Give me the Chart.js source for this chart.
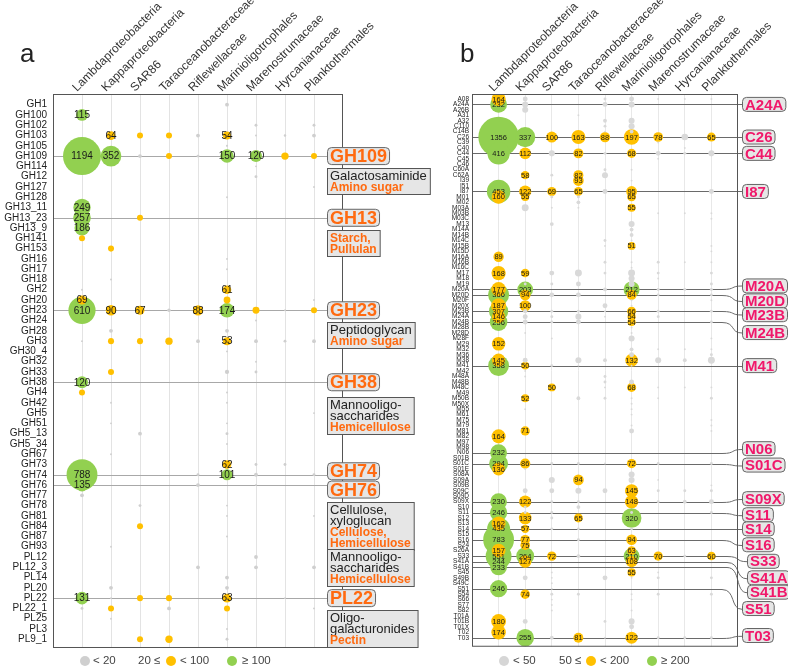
<!DOCTYPE html>
<html>
<head>
<meta charset="utf-8">
<script src="https://cdn.jsdelivr.net/npm/chart.js@4.4.1/dist/chart.umd.min.js"></script>
<style>
html, body { margin: 0; padding: 0; background: #fff; }
#wrap { position: relative; width: 788px; height: 667px; overflow: hidden; }
canvas { position: absolute; top: 0; }
#ca { left: 0; }
#cb { left: 400px; }
</style>
</head>
<body>
<div id="wrap">
    <canvas id="ca" width="440" height="667"></canvas>
    <canvas id="cb" width="388" height="667"></canvas>
</div>
<script>
const FONT = "'Liberation Sans', Arial, sans-serif";
const GREEN = '#92d050';
const ORANGE = '#ffc000';
const TAGORANGE = '#ff6a10';
const PINK = '#f0186a';

const taxa = ['Lambdaproteobacteria', 'Kappaproteobacteria', 'SAR86', 'Taraoceanobacteraceae', 'Riflewellaceae',
    'Marinioligotrophales', 'Marenostrumaceae', 'Hyrcanianaceae', 'Planktothermales'];

// ---- panel a : GH / PL families ----
const rowsA = ['GH1', 'GH100', 'GH102', 'GH103', 'GH105', 'GH109', 'GH114', 'GH12', 'GH127', 'GH128', 'GH13_11',
    'GH13_23', 'GH13_9', 'GH141', 'GH153', 'GH16', 'GH17', 'GH18', 'GH2', 'GH20', 'GH23', 'GH24', 'GH28', 'GH3',
    'GH30_4', 'GH32', 'GH33', 'GH38', 'GH4', 'GH42', 'GH5', 'GH51', 'GH5_13', 'GH5_34', 'GH67', 'GH73', 'GH74',
    'GH76', 'GH77', 'GH78', 'GH81', 'GH84', 'GH87', 'GH93', 'PL12', 'PL12_3', 'PL14', 'PL20', 'PL22', 'PL22_1',
    'PL25', 'PL3', 'PL9_1'];

const aLam = [['GH100', 115], ['GH109', 1194], ['GH13_11', 249], ['GH13_23', 257], ['GH13_9', 186], ['GH141', 30],
    ['GH2', 3], ['GH20', 69], ['GH23', 610], ['GH3', 3], ['GH38', 120], ['GH4', 30], ['GH74', 788], ['GH76', 135],
    ['GH77', 12], ['PL22', 131], ['PL22_1', 7]];
const aKap = [['GH103', 64], ['GH109', 352], ['GH153', 30], ['GH18', 3], ['GH23', 90], ['GH28', 12], ['GH3', 30],
    ['GH33', 30], ['GH42', 3], ['GH51', 3], ['GH67', 3], ['GH93', 3], ['PL20', 12], ['PL22', 3], ['PL22_1', 30],
    ['PL25', 3]];
const aSar = [['GH103', 30], ['GH109', 12], ['GH13_23', 30], ['GH23', 67], ['GH3', 30], ['GH5_13', 12], ['GH78', 7],
    ['GH84', 30], ['PL22', 30], ['PL9_1', 30]];
const aTar = [['GH103', 30], ['GH109', 30], ['GH23', 10], ['GH3', 45], ['PL22', 30], ['PL22_1', 12], ['PL9_1', 45]];
const aRif = [['GH103', 12], ['GH109', 7], ['GH23', 88], ['GH3', 12], ['GH74', 7], ['GH76', 12], ['PL12_3', 12]];
const aMio = [['GH1', 12], ['GH103', 54], ['GH105', 4], ['GH109', 150], ['GH128', 3], ['GH16', 3], ['GH17', 3],
    ['GH2', 61], ['GH20', 38], ['GH23', 174], ['GH28', 12], ['GH3', 53], ['GH30_4', 3], ['GH33', 15], ['GH4', 3],
    ['GH42', 3], ['GH51', 3], ['GH5_13', 7], ['GH5_34', 3], ['GH73', 62], ['GH74', 101], ['GH78', 3], ['GH81', 3],
    ['GH87', 3], ['PL14', 12], ['PL20', 12], ['PL22', 63], ['PL22_1', 30], ['PL3', 3], ['PL9_1', 7]];
const aMar = [['GH102', 7], ['GH103', 3], ['GH109', 120], ['GH114', 3], ['GH12', 7], ['GH23', 40], ['GH24', 3],
    ['GH3', 12], ['GH32', 3], ['GH33', 7], ['GH73', 7], ['GH74', 12], ['GH76', 3], ['PL12', 12], ['PL12_3', 12]];
const aHyr = [['GH103', 5], ['GH109', 45], ['GH23', 3], ['GH3', 7], ['GH73', 7], ['PL22', 3]];
const aPla = [['GH102', 7], ['GH103', 12], ['GH109', 30], ['GH127', 3], ['GH20', 3], ['GH23', 30], ['GH3', 12],
    ['GH5', 3], ['GH74', 7], ['GH81', 3], ['PL12_3', 12], ['PL22_1', 3]];

const markA = ['GH109', 'GH13_23', 'GH23', 'GH38', 'GH74', 'GH76', 'PL22'];
const tagA = ['GH109', 'GH13', 'GH23', 'GH38', 'GH74', 'GH76', 'PL22'];
const notesA = [
    [['Galactosaminide'], ['Amino sugar']],
    [[], ['Starch,', 'Pullulan']],
    [['Peptidoglycan'], ['Amino sugar']],
    [['Mannooligo-', 'saccharides'], ['Hemicellulose']],
    [['Cellulose,', 'xyloglucan'], ['Cellulose,', 'Hemicellulose']],
    [['Mannooligo-', 'saccharides'], ['Hemicellulose']],
    [['Oligo-', 'galacturonides'], ['Pectin']],
];

// ---- panel b : peptidase families ----
const rowsB = ['A08', 'A24A', 'A26B', 'A31', 'A32', 'C110', 'C14B', 'C26', 'C39', 'C40', 'C44', 'C45', 'C46', 'C60A',
    'C62A', 'I39', 'I51', 'I87', 'M01', 'M02', 'M03A', 'M03B', 'M03C', 'M13', 'M14A', 'M14B', 'M14C', 'M15B', 'M15D',
    'M16A', 'M16B', 'M16C', 'M17', 'M18', 'M19', 'M20A', 'M20D', 'M20F', 'M20X', 'M23B', 'M24A', 'M24B', 'M28B',
    'M28D', 'M28F', 'M29', 'M32', 'M36', 'M38', 'M41', 'M42', 'M48A', 'M48B', 'M48C', 'M49', 'M50B', 'M50X', 'M55',
    'M61', 'M75', 'M79', 'M81', 'M82', 'M97', 'M98', 'N06', 'S01B', 'S01C', 'S01E', 'S08A', 'S09A', 'S09B', 'S09C',
    'S09D', 'S09X', 'S10', 'S11', 'S12', 'S13', 'S14', 'S15', 'S16', 'S24', 'S26A', 'S33', 'S41A', 'S41B', 'S45',
    'S49B', 'S49C', 'S51', 'S54', 'S66', 'S77', 'S82', 'T01A', 'T01B', 'T01X', 'T02', 'T03'];

const bLam = [['A08', 164], ['A24A', 232], ['C26', 1356], ['C44', 416], ['I87', 453], ['M01', 160], ['M16A', 89],
    ['M17', 168], ['M20A', 177], ['M20D', 366], ['M20X', 187], ['M23B', 307], ['M24A', 146], ['M24B', 256],
    ['M29', 152], ['M38', 145], ['M41', 358], ['M82', 164], ['N06', 232], ['S01C', 294], ['S01E', 136], ['S09X', 230],
    ['S11', 246], ['S13', 162], ['S14', 435], ['S16', 783], ['S26A', 157], ['S33', 551], ['S41A', 244], ['S41B', 233],
    ['S51', 246], ['T01B', 180], ['T02', 174]];
const bKap = [['A08', 20], ['A24A', 30], ['A26B', 30], ['C26', 337], ['C44', 112], ['C62A', 58], ['I87', 122],
    ['M01', 55], ['M03A', 40], ['M17', 59], ['M19', 7], ['M20A', 203], ['M20D', 94], ['M20X', 100], ['M23B', 15],
    ['M24A', 20], ['M24B', 20], ['M28D', 3], ['M38', 20], ['M41', 50], ['M42', 3], ['M48A', 3], ['M50B', 52],
    ['M55', 3], ['M81', 71], ['S01C', 86], ['S01E', 3], ['S09C', 20], ['S09X', 122], ['S10', 7], ['S11', 7],
    ['S12', 133], ['S14', 57], ['S16', 77], ['S24', 75], ['S33', 264], ['S41A', 127], ['S49B', 20], ['S54', 74],
    ['T01B', 20], ['T03', 255]];
const bSar = [['C26', 100], ['C44', 30], ['C62A', 7], ['I87', 69], ['M01', 7], ['M03A', 3], ['M13', 12], ['M17', 20],
    ['M19', 7], ['M20D', 20], ['M23B', 7], ['M24A', 7], ['M24B', 7], ['M28F', 3], ['M41', 7], ['M48C', 50],
    ['S01C', 7], ['S09A', 30], ['S09C', 20], ['S09X', 7], ['S11', 7], ['S12', 7], ['S14', 7], ['S33', 72], ['S45', 3],
    ['S49B', 3], ['S49C', 3], ['S51', 3], ['S54', 7], ['S66', 3], ['S77', 3], ['S82', 3], ['T03', 12]];
const bTar = [['A31', 3], ['C26', 163], ['C44', 82], ['C62A', 82], ['I39', 93], ['I87', 65], ['M01', 7], ['M02', 12],
    ['M03A', 3], ['M17', 40], ['M19', 20], ['M20D', 20], ['M23B', 7], ['M24A', 30], ['M24B', 20], ['M38', 30],
    ['M41', 3], ['M50B', 12], ['S01C', 7], ['S09A', 94], ['S09C', 30], ['S09X', 7], ['S10', 12], ['S12', 65],
    ['S14', 7], ['S16', 7], ['S33', 12], ['S54', 7], ['T03', 81]];
const bRif = [['A08', 7], ['A24A', 20], ['A32', 12], ['C110', 7], ['C14B', 3], ['C26', 88], ['C44', 7], ['C60A', 7],
    ['C62A', 30], ['I87', 20], ['M14C', 7], ['M15B', 3], ['M16B', 7], ['M17', 7], ['M20A', 12], ['M20X', 20],
    ['M23B', 3], ['M24A', 3], ['M38', 12], ['M48A', 7], ['M48B', 7], ['M48C', 3], ['M50B', 7], ['S01C', 3],
    ['S09C', 20], ['S49B', 20], ['T01B', 7], ['T03', 3]];
const bMio = [['A08', 20], ['A24A', 30], ['A32', 30], ['C110', 30], ['C14B', 12], ['C26', 197], ['C44', 68],
    ['C60A', 3], ['I39', 3], ['I87', 95], ['M01', 65], ['M03A', 55], ['M13', 30], ['M14A', 12], ['M14B', 12],
    ['M14C', 3], ['M15B', 51], ['M16B', 3], ['M16C', 3], ['M17', 40], ['M18', 30], ['M19', 30], ['M20A', 212],
    ['M20D', 84], ['M20F', 3], ['M20X', 3], ['M23B', 66], ['M24A', 54], ['M24B', 54], ['M28B', 3], ['M28D', 3],
    ['M28F', 30], ['M32', 12], ['M36', 20], ['M38', 132], ['M41', 3], ['M48B', 20], ['M48C', 68], ['M50B', 3],
    ['M50X', 3], ['M55', 3], ['M61', 3], ['M79', 3], ['M81', 20], ['S01C', 72], ['S08A', 30], ['S09A', 30],
    ['S09C', 145], ['S09X', 148], ['S11', 7], ['S12', 320], ['S14', 7], ['S16', 94], ['S26A', 63], ['S33', 210],
    ['S41A', 108], ['S45', 55], ['S49B', 3], ['S54', 3], ['S66', 3], ['S82', 3], ['T01B', 30], ['T01X', 20],
    ['T03', 122]];
const bMar = [['A08', 3], ['C26', 78], ['C39', 3], ['C44', 20], ['C45', 3], ['M03B', 3], ['M16B', 7], ['M17', 7],
    ['M18', 3], ['M20A', 7], ['M20D', 7], ['M23B', 7], ['M24A', 7], ['M32', 3], ['M38', 30], ['M48C', 3], ['M50B', 3],
    ['S01C', 7], ['S09A', 3], ['S09C', 7], ['S09X', 7], ['S33', 70], ['S45', 3], ['S49B', 7], ['S54', 7], ['T03', 7]];
const bHyr = [['A08', 3], ['C26', 36], ['C40', 3], ['C44', 7], ['M03B', 3], ['M16B', 3], ['M20A', 7], ['M32', 3],
    ['M38', 12], ['M48C', 3], ['S09C', 7], ['S09X', 12], ['S33', 7], ['T03', 7]];
const bPla = [['A08', 3], ['C26', 65], ['C44', 30], ['I87', 20], ['M03B', 3], ['M03C', 3], ['M15B', 3], ['M15D', 3],
    ['M16B', 3], ['M17', 7], ['M19', 7], ['M20A', 7], ['M20D', 7], ['M20F', 3], ['M23B', 7], ['M24B', 7],
    ['M28F', 3], ['M32', 3], ['M36', 7], ['M38', 40], ['M48C', 3], ['M50B', 7], ['M75', 3], ['M79', 3], ['M81', 3],
    ['S01C', 7], ['S09B', 3], ['S09C', 7], ['S09X', 20], ['S11', 7], ['S33', 60], ['S49B', 7], ['S54', 7],
    ['T03', 7]];

const markB = ['A24A', 'C26', 'C44', 'I87', 'M20A', 'M20D', 'M23B', 'M24B', 'M41', 'N06', 'S01C', 'S09X', 'S11',
    'S14', 'S16', 'S33', 'S41A', 'S41B', 'S51', 'T03'];

// tag box offsets from the row they point at (px)
const tagShiftA = { GH74: -3.5, GH76: 4.5 };
const noteTopA = [168, 230, 322, 397, 502, 549, 610];
const tagShiftB = { M20A: -3.5, M20D: 6, M23B: 3.5, M24B: 10.5, N06: -4, S01C: 1.5, S09X: -3, S11: 2.2, S16: 5,
    S33: 5.2, S41A: 16.3, S41B: 25.2, S51: 19.8, T03: -2.2 };
const tagIndentB = { S33: 5, S41A: 5, S41B: 5 };

const rad = v => Math.max(0.8, 0.55 * Math.sqrt(v));

function buildSets(rows, cols, lo, hi, grey) {
    const sets = [[], [], []];
    cols.forEach((col, ci) => col.forEach(([name, v]) => {
        const y = rows.indexOf(name);
        if (y < 0) console.warn('missing row', name);
        const k = v < lo ? 0 : v < hi ? 1 : 2;
        sets[k].push({ x: ci + 1, y, r: rad(v), v });
    }));
    const colors = [grey, ORANGE, GREEN];
    return sets.map((data, i) => ({ data, backgroundColor: colors[i], borderWidth: 0, hoverRadius: 0 }));
}

const valueLabels = {
    id: 'valueLabels',
    afterDatasetsDraw(chart, args, opts) {
        const { ctx } = chart;
        ctx.save();
        ctx.font = opts.font;
        ctx.fillStyle = '#1a1a1a';
        ctx.textAlign = 'center';
        ctx.textBaseline = 'middle';
        chart.data.datasets.forEach((ds, i) => {
            chart.getDatasetMeta(i).data.forEach((el, j) => {
                const v = ds.data[j].v;
                if (v >= opts.min) ctx.fillText(v, el.x, el.y + 0.5);
            });
        });
        ctx.restore();
    }
};

function drawHeader(chart, letter, letterX, dx, dy) {
    const { ctx, chartArea } = chart;
    const xs = chart.scales.x;
    ctx.save();
    ctx.strokeStyle = '#555';
    ctx.lineWidth = 1;
    ctx.strokeRect(chartArea.left + 0.5, chartArea.top + 0.5, chartArea.width - 1, chartArea.height - 1);
    ctx.fillStyle = '#333';
    ctx.font = '12px ' + FONT;
    ctx.textAlign = 'left';
    ctx.textBaseline = 'alphabetic';
    taxa.forEach((t, i) => {
        ctx.save();
        ctx.translate(xs.getPixelForValue(i + 1) + dx, chartArea.top + dy);
        ctx.rotate(-Math.PI / 4);
        ctx.fillText(t, 0, 0);
        ctx.restore();
    });
    ctx.fillStyle = '#222';
    ctx.font = '26px ' + FONT;
    ctx.fillText(letter, letterX, 62);
    ctx.restore();
}

function drawLegend(ctx, y, grey, items) {
    ctx.save();
    ctx.font = '11.5px ' + FONT;
    ctx.textBaseline = 'middle';
    items.forEach(([kind, x, txt]) => {
        if (kind === 't') {
            ctx.fillStyle = '#444';
            ctx.fillText(txt, x, y);
        } else {
            ctx.fillStyle = kind === 'g' ? grey : kind === 'o' ? ORANGE : GREEN;
            ctx.beginPath();
            ctx.arc(x, y, 5, 0, Math.PI * 2);
            ctx.fill();
        }
    });
    ctx.restore();
}

function tagBox(ctx, x, y, text, font, color, h) {
    ctx.font = font;
    const w = ctx.measureText(text).width + 5;
    ctx.beginPath();
    ctx.roundRect(x, y - h / 2, w, h, 4);
    ctx.fillStyle = '#e6e6e6';
    ctx.fill();
    ctx.strokeStyle = '#666';
    ctx.lineWidth = 1;
    ctx.stroke();
    ctx.fillStyle = color;
    ctx.textAlign = 'left';
    ctx.textBaseline = 'middle';
    ctx.fillText(text, x + 2.5, y + 1);
}

const panelA = {
    id: 'panelA',
    beforeDatasetsDraw(chart) {
        const { ctx, chartArea } = chart;
        const ys = chart.scales.y;
        ctx.save();
        ctx.strokeStyle = '#a8a8a8';
        ctx.lineWidth = 1;
        markA.forEach(name => {
            const y = Math.round(ys.getPixelForValue(rowsA.indexOf(name))) + 0.5;
            ctx.beginPath();
            ctx.moveTo(chartArea.left, y);
            ctx.lineTo(327, y);
            ctx.stroke();
        });
        ctx.restore();
    },
    afterDraw(chart) {
        const { ctx } = chart;
        const ys = chart.scales.y;
        drawHeader(chart, 'a', 20, -5, -2);
        ctx.save();
        markA.forEach((name, i) => {
            const y = ys.getPixelForValue(rowsA.indexOf(name)) + (tagShiftA[tagA[i]] || 0);
            tagBox(ctx, 327.5, y, tagA[i], 'bold 18px ' + FONT, TAGORANGE, 17);
        });
        notesA.forEach(([plain, used], i) => {
            const top = noteTopA[i] + 0.5;
            const n = plain.length + used.length;
            ctx.font = '13px ' + FONT;
            let w = Math.max(0, ...plain.map(s => ctx.measureText(s).width));
            ctx.font = 'bold 12px ' + FONT;
            w = Math.max(w, ...used.map(s => ctx.measureText(s).width));
            ctx.fillStyle = '#e6e6e6';
            ctx.fillRect(327.5, top, w + 6, n * 11 + 4);
            ctx.strokeStyle = '#555';
            ctx.strokeRect(327.5, top, w + 6, n * 11 + 4);
            ctx.textAlign = 'left';
            ctx.textBaseline = 'alphabetic';
            plain.forEach((s, k) => {
                ctx.font = '13px ' + FONT;
                ctx.fillStyle = '#222';
                ctx.fillText(s, 330, top + 11 + k * 11);
            });
            used.forEach((s, k) => {
                ctx.font = 'bold 12px ' + FONT;
                ctx.fillStyle = TAGORANGE;
                ctx.fillText(s, 330, top + 11 + (plain.length + k) * 11);
            });
        });
        ctx.restore();
        drawLegend(ctx, 661, '#cfcfcf', [['g', 85], ['t', 93, '< 20'], ['t', 138, '20 \u2264'], ['o', 171],
            ['t', 180, '< 100'], ['g2', 232], ['t', 242, '\u2265 100']]);
    }
};

const panelB = {
    id: 'panelB',
    beforeDatasetsDraw(chart) {
        const { ctx, chartArea } = chart;
        const ys = chart.scales.y;
        ctx.save();
        ctx.strokeStyle = '#6a6a6a';
        ctx.lineWidth = 1;
        markB.forEach(name => {
            const y = Math.round(ys.getPixelForValue(rowsB.indexOf(name))) + 0.5;
            const by = y + (tagShiftB[name] || 0);
            const bx = 342 + (tagIndentB[name] || 0);
            ctx.beginPath();
            ctx.moveTo(chartArea.left, y);
            if (Math.abs(by - y) < 1) {
                ctx.lineTo(bx, y);
            } else {
                ctx.lineTo(bx - 20, y);
                ctx.bezierCurveTo(bx - 6, y, bx - 12, by, bx, by);
            }
            ctx.stroke();
        });
        ctx.restore();
    },
    afterDraw(chart) {
        const { ctx } = chart;
        const ys = chart.scales.y;
        drawHeader(chart, 'b', 60, -5, -2);
        ctx.save();
        markB.forEach(name => {
            const y = ys.getPixelForValue(rowsB.indexOf(name)) + (tagShiftB[name] || 0);
            tagBox(ctx, 342.5 + (tagIndentB[name] || 0), y, name, 'bold 15px ' + FONT, PINK, 14);
        });
        ctx.restore();
        drawLegend(ctx, 661, '#d6d6d6', [['g', 104], ['t', 113, '< 50'], ['t', 159, '50 \u2264'], ['o', 191],
            ['t', 200, '< 200'], ['g2', 252], ['t', 261, '\u2265 200']]);
    }
};

function makeChart(id, rows, cols, o) {
    return new Chart(document.getElementById(id), {
        type: 'bubble',
        data: { datasets: buildSets(rows, cols, o.lo, o.hi, o.grey) },
        plugins: [o.plugin, valueLabels],
        options: {
            responsive: false,
            devicePixelRatio: 1,
            animation: false,
            events: [],
            layout: { padding: o.padding },
            plugins: {
                legend: { display: false },
                tooltip: { enabled: false },
                valueLabels: { min: 50, font: o.labelFont },
            },
            scales: {
                x: {
                    type: 'linear', position: 'top', min: 0, max: 10,
                    afterBuildTicks: s => { s.ticks = taxa.map((t, i) => ({ value: i + 1 })); },
                    afterFit: s => { s.height = 0; s.paddingLeft = 0; s.paddingRight = 0; },
                    ticks: { display: false },
                    grid: { color: o.gridColor, drawTicks: false },
                    border: { display: false },
                },
                y: {
                    type: 'linear', reverse: true, min: o.yMin, max: o.yMax,
                    afterBuildTicks: s => { s.ticks = rows.map((r, i) => ({ value: i })); },
                    afterFit: s => { s.width = o.axisWidth; s.paddingTop = 0; s.paddingBottom = 0; },
                    ticks: {
                        autoSkip: false, padding: o.tickPad, color: '#222',
                        font: { family: FONT, size: o.tickSize },
                        callback: v => rows[v],
                    },
                    grid: { display: false, drawTicks: false },
                    border: { display: false },
                },
            },
        },
    });
}

makeChart('ca', rowsA, [aLam, aKap, aSar, aTar, aRif, aMio, aMar, aHyr, aPla], {
    lo: 20, hi: 100, grey: '#cfcfcf', plugin: panelA, labelFont: '10px ' + FONT,
    padding: { top: 94, left: 0, right: 97, bottom: 18 }, gridColor: '#e3e3e3',
    yMin: -1.04, yMax: 52.85, axisWidth: 53, tickPad: 6, tickSize: 10,
});

makeChart('cb', rowsB, [bLam, bKap, bSar, bTar, bRif, bMio, bMar, bHyr, bPla], {
    lo: 50, hi: 200, grey: '#d9d9d9', plugin: panelB, labelFont: '7.5px ' + FONT,
    padding: { top: 94, left: 0, right: 50, bottom: 15 }, gridColor: '#e8e8e8',
    yMin: -0.91, yMax: 100.66, axisWidth: 72, tickPad: 3, tickSize: 6.5,
});
</script>
</body>
</html>
